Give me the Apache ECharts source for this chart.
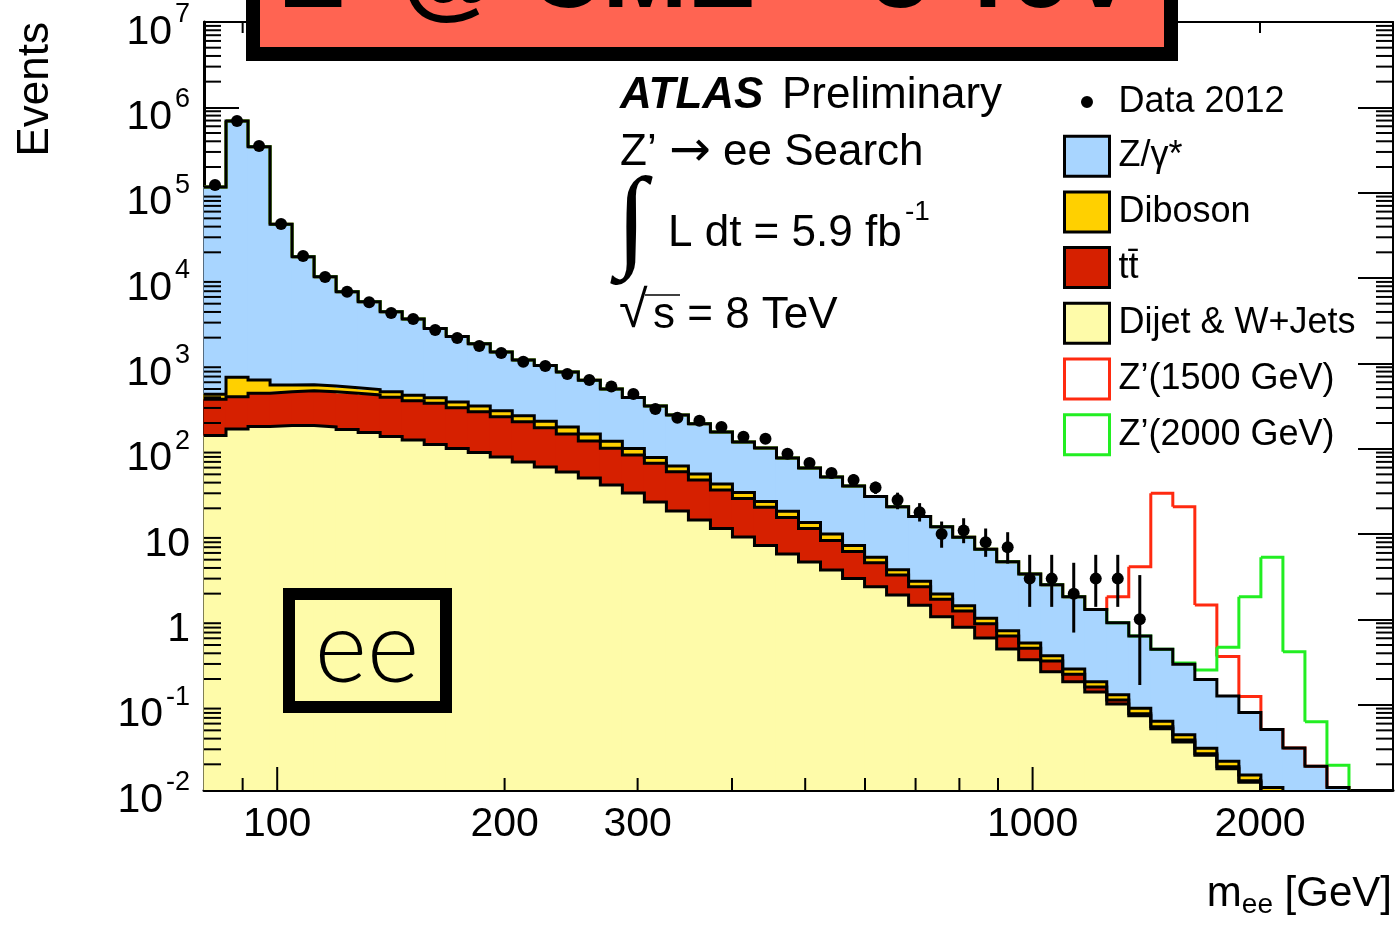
<!DOCTYPE html>
<html>
<head>
<meta charset="utf-8">
<title>Z' to ee search</title>
<script src="https://cdn.jsdelivr.net/npm/echarts@6/dist/echarts.min.js"></script>
<style>
  html, body { margin: 0; padding: 0; background: #fff; }
  #chart { width: 1397px; height: 927px; }
</style>
</head>
<body>
<div id="chart"></div>
<script>
// 54 equal bins in log(m_ee) between 80 and 3000 GeV
const massMin = 80;
const massMax = 3000;
const nBins = 54;
const yMin = 0.01;
const yMax = 1e7;

// background per bin (events), bottom of the stack first
const dijetWjets = [142.6, 170, 182, 187, 187, 179.5, 168, 155, 139, 126.5,
  112, 100.5, 90.2, 80, 69.8, 61, 53.3, 45.3, 37.5, 30.3,
  23.7, 18.6, 14.6, 11.6, 9.23, 7.33, 5.83, 4.7, 3.79, 3.01,
  2.41, 1.93, 1.46, 1.07, 0.807, 0.604, 0.449, 0.337, 0.243, 0.186,
  0.141, 0.102, 0.0743, 0.0523, 0.0365, 0.0255, 0.0178, 0.0123, 0.0085, 0.0058,
  0.004, 0.0027, 0.0019, 0.0013];
const ttbar = [236, 236, 264, 279, 291, 286, 278, 271, 261, 238,
  228, 201, 181, 157, 137, 115, 95.7, 77.7, 63.5, 54,
  43.7, 35.1, 28.4, 21.2, 16.9, 13.2, 9.8, 6.9, 4.6, 3.23,
  2.2, 1.38, 0.95, 0.65, 0.443, 0.285, 0.189, 0.121, 0.082, 0.041,
  0.02, 0.0115, 0.0041, 0.0029, 0.002, 0.0011, 0.00095, 0.0005, 0.0004, 0.0003,
  0.0002, 0.0002, 0.0001, 0.0001];
const diboson = [55, 281, 192, 91, 82, 77, 72, 67, 63, 58,
  54, 50, 45, 41, 37, 34, 30, 26, 21, 16,
  11.5, 9.0, 7.4, 5.7, 4.5, 3.5, 2.8, 2.0, 1.6, 1.1,
  0.72, 0.51, 0.38, 0.26, 0.195, 0.139, 0.098, 0.07, 0.05, 0.035,
  0.025, 0.0175, 0.0122, 0.0086, 0.006, 0.0042, 0.003, 0.0022, 0.0018, 0.0013,
  0.0009, 0.0006, 0.0004, 0.0003];
const zgamma = [116000, 691000, 345000, 42000, 17200, 9810, 6400, 4780, 3560, 2880,
  2170, 1710, 1380, 1080, 851, 733, 611, 484, 377, 298,
  238, 185, 145, 118, 89, 78, 59.4, 45.8, 36.6, 29.2,
  22.1, 17.1, 13.2, 10.2, 7.7, 5.59, 4.0, 2.87, 2.16, 1.58,
  1.12, 0.783, 0.547, 0.382, 0.253, 0.167, 0.105, 0.066, 0.0403, 0.0237,
  0.0139, 0.0072, 0.004, 0.0021];

// observed events (bins after the last one are empty)
const data2012 = [123000, 692000, 352000, 43000, 18100, 10300, 6920, 5190, 3890, 3310,
  2460, 1980, 1600, 1320, 1045, 931, 750, 638, 535, 437,
  292, 231, 213, 179, 138, 131, 87, 68, 52, 43,
  35, 25, 18, 10, 11, 8, 7, 3, 3, 2,
  3, 3, 1];
// visible error bars, starting at bin errFirstBin
const errFirstBin = 28;
const dataLo = [45, 37, 29.5, 19.5, 14, 6.9, 7.8, 5.4, 4.5, 1.4, 1.4, 0.7, 1.4, 1.4, 0.17];
const dataHi = [59, 50, 41, 30.5, 23, 14, 15.3, 11.6, 10.5, 5.7, 5.7, 4.6, 5.7, 5.7, 3.3];

// Z' signal on top of the background, starting at the given bin
const zp1500First = 41;
const zp1500 = [0.92, 3.5, 29.6, 20.6, 1.27, 0.24, 0.044];
const zp2000First = 44;
const zp2000 = [0.01, 0.057, 0.344, 1.76, 5.28, 0.387, 0.044, 0.0088, 0.002];

const xLabels = [100, 200, 300, 1000, 2000];
const xMajorTicks = [100, 1000];
const xMinorTicks = [90, 200, 300, 400, 500, 600, 700, 800, 900, 2000];

const F = 'Liberation Sans, Arial, Helvetica, sans-serif';
const colZ = '#a8d5ff';
const colDiboson = '#ffd000';
const colTtbar = '#d62000';
const colDijet = '#fefba9';
const colZp1500 = '#ff2a10';
const colZp2000 = '#22ee22';

const edges = [];
for (let k = 0; k <= nBins; k++) edges.push(massMin * Math.pow(massMax / massMin, k / nBins));
const centers = edges.slice(0, nBins).map((e, k) => Math.sqrt(e * edges[k + 1]));

// cumulative stack
const layers = [dijetWjets, ttbar, diboson, zgamma];
const tops = [];
let run = new Array(nBins).fill(0);
layers.forEach((vals) => {
  run = run.map((r, k) => r + vals[k]);
  tops.push(run);
});
const bottoms = [new Array(nBins).fill(yMin), tops[0], tops[1], tops[2]];
const total = tops[3];

const clampY = (v) => Math.min(Math.max(v, yMin), yMax);

function binRects(i) {
  return edges.slice(0, nBins).map((e, k) => [e, edges[k + 1], bottoms[i][k], tops[i][k]]);
}

function stepPoints(vals) {
  const pts = [];
  vals.forEach((v, k) => pts.push([edges[k], v], [edges[k + 1], v]));
  return pts;
}

function signalSteps(sig, first) {
  const vals = total.map((t, k) => {
    const j = k - first;
    return t + (j >= 0 && j < sig.length ? sig[j] : 0);
  });
  return vals.map((v, k) => [edges[k], edges[k + 1], v, k + 1 < nBins ? vals[k + 1] : v]);
}

function renderFill(params, api) {
  const hi = api.value(3);
  if (hi <= yMin) return null;
  const a = api.coord([api.value(0), clampY(hi)]);
  const b = api.coord([api.value(1), clampY(api.value(2))]);
  return {
    type: 'rect',
    shape: { x: a[0] - 0.5, y: a[1], width: b[0] - a[0] + 1, height: b[1] - a[1] },
    style: { fill: api.visual('color') }
  };
}

function renderStep(params, api) {
  const v = api.value(2);
  const p0 = api.coord([api.value(0), clampY(v)]);
  const p1 = api.coord([api.value(1), clampY(v)]);
  const p2 = api.coord([api.value(1), clampY(api.value(3))]);
  const points = v > yMin ? [p0, p1, p2] : [p1, p2];
  return {
    type: 'polyline',
    shape: { points: points },
    style: { stroke: api.visual('color'), lineWidth: 3, fill: null }
  };
}

function renderErr(params, api) {
  const a = api.coord([api.value(0), clampY(api.value(1))]);
  const b = api.coord([api.value(0), clampY(api.value(2))]);
  return {
    type: 'line',
    shape: { x1: a[0], y1: a[1], x2: b[0], y2: b[1] },
    style: { stroke: '#000', lineWidth: 3 }
  };
}

const yMinorTicks = [];
for (let e = -2; e < 7; e++) {
  for (let m = 2; m <= 9; m++) yMinorTicks.push(m * Math.pow(10, e));
}

function renderYMinor(params, api) {
  const v = api.value(1);
  const p = api.coord([massMin, v]);
  const q = api.coord([massMax, v]);
  return {
    type: 'group',
    children: [
      { type: 'line', shape: { x1: p[0], y1: p[1], x2: p[0] + 17, y2: p[1] }, style: { stroke: '#000', lineWidth: 2 } },
      { type: 'line', shape: { x1: q[0] - 17, y1: q[1], x2: q[0], y2: q[1] }, style: { stroke: '#000', lineWidth: 2 } }
    ]
  };
}

// x ticks: value, length
function renderXTick(params, api) {
  const v = api.value(0);
  const len = api.value(2);
  const p = api.coord([v, yMin]);
  const t = api.coord([v, yMax]);
  return {
    type: 'group',
    children: [
      { type: 'line', shape: { x1: p[0], y1: p[1], x2: p[0], y2: p[1] - len }, style: { stroke: '#000', lineWidth: 2 } },
      { type: 'line', shape: { x1: t[0], y1: t[1], x2: t[0], y2: t[1] + len - 1 }, style: { stroke: '#000', lineWidth: 2 } }
    ]
  };
}

function renderXLabel(params, api) {
  const v = api.value(0);
  const p = api.coord([v, yMin]);
  return {
    type: 'text',
    x: p[0],
    y: p[1] + 35,
    style: { text: String(v), fontSize: 41, fontFamily: F, fill: '#000', align: 'center', verticalAlign: 'middle' }
  };
}

function fillSeries(name, i, color) {
  return {
    name: name,
    type: 'custom',
    renderItem: renderFill,
    encode: { x: [0, 1], y: [2, 3] },
    itemStyle: { color: color, borderColor: '#000', borderWidth: 3 },
    data: binRects(i),
    silent: true
  };
}

function outlineSeries(vals) {
  return {
    type: 'line',
    data: stepPoints(vals),
    symbol: 'none',
    lineStyle: { color: '#000', width: 3, join: 'miter' },
    clip: true,
    silent: true
  };
}

function signalSeries(name, sig, first, color) {
  return {
    name: name,
    type: 'custom',
    renderItem: renderStep,
    encode: { x: [0, 1], y: [2, 3] },
    itemStyle: { color: color },
    data: signalSteps(sig, first),
    silent: true
  };
}

const dotIcon = 'path://M0,0L0.01,0M45,40L45.01,40M16.5,20A6,6,0,1,0,28.5,20A6,6,0,1,0,16.5,20Z';

const option = {
  animation: false,
  backgroundColor: '#fff',
  grid: { left: 204, right: 4, top: 22, bottom: 137, containLabel: false, outerBoundsMode: 'none' },
  xAxis: [
    {
      type: 'log', min: massMin, max: massMax, position: 'bottom',
      axisLine: { onZero: false, lineStyle: { color: '#000', width: 3 } },
      axisTick: { show: false },
      axisLabel: { show: false },
      splitLine: { show: false }
    },
    {
      type: 'log', min: massMin, max: massMax, position: 'top',
      axisLine: { onZero: false, lineStyle: { color: '#000', width: 2 } },
      axisTick: { show: false },
      axisLabel: { show: false },
      splitLine: { show: false }
    }
  ],
  yAxis: [
    {
      type: 'log', min: yMin, max: yMax, position: 'left',
      axisLine: { onZero: false, lineStyle: { color: '#000', width: 3 } },
      axisTick: { inside: true, length: 35, lineStyle: { color: '#000', width: 2 } },
      splitLine: { show: false },
      axisLabel: {
        margin: 14,
        padding: [10, 0, 0, 0],
        formatter: (v) => {
          const e = Math.round(Math.log10(v));
          if (e === 0) return '{p|1}';
          if (e === 1) return '{p|10}';
          return '{p|10}{s|' + e + '}';
        },
        rich: {
          p: { fontSize: 41, fontFamily: F, color: '#000', lineHeight: 52, verticalAlign: 'bottom' },
          s: { fontSize: 27, fontFamily: F, color: '#000', lineHeight: 22, verticalAlign: 'top', padding: [0, 0, 0, 3] }
        }
      }
    },
    {
      type: 'log', min: yMin, max: yMax, position: 'right',
      axisLine: { onZero: false, lineStyle: { color: '#000', width: 2 } },
      axisTick: { inside: true, length: 35, lineStyle: { color: '#000', width: 2 } },
      axisLabel: { show: false },
      splitLine: { show: false }
    }
  ],
  legend: {
    left: 1063,
    top: 82,
    padding: 0,
    orient: 'vertical',
    itemWidth: 45,
    itemHeight: 40,
    itemGap: 12.7,
    selectedMode: false,
    textStyle: { fontSize: 36, fontFamily: F, color: '#000', padding: [0, 0, 0, 4] },
    data: [
      { name: 'Data 2012', icon: dotIcon, itemStyle: { color: '#000', borderWidth: 0 } },
      { name: 'Z/γ*', icon: 'rect', itemStyle: { color: colZ, borderColor: '#000', borderWidth: 3 } },
      { name: 'Diboson', icon: 'rect', itemStyle: { color: colDiboson, borderColor: '#000', borderWidth: 3 } },
      { name: 'tt\u0304', icon: 'rect', itemStyle: { color: colTtbar, borderColor: '#000', borderWidth: 3 } },
      { name: 'Dijet & W+Jets', icon: 'rect', itemStyle: { color: colDijet, borderColor: '#000', borderWidth: 3 } },
      { name: 'Z’(1500 GeV)', icon: 'rect', itemStyle: { color: '#fff', borderColor: colZp1500, borderWidth: 3 } },
      { name: 'Z’(2000 GeV)', icon: 'rect', itemStyle: { color: '#fff', borderColor: colZp2000, borderWidth: 3 } }
    ]
  },
  series: [
    fillSeries('Dijet & W+Jets', 0, colDijet),
    fillSeries('tt\u0304', 1, colTtbar),
    fillSeries('Diboson', 2, colDiboson),
    fillSeries('Z/γ*', 3, colZ),
    signalSeries('Z’(1500 GeV)', zp1500, zp1500First, colZp1500),
    signalSeries('Z’(2000 GeV)', zp2000, zp2000First, colZp2000),
    outlineSeries(tops[0]),
    outlineSeries(tops[1]),
    outlineSeries(tops[2]),
    outlineSeries(tops[3]),
    {
      type: 'custom',
      renderItem: renderErr,
      encode: { x: 0, y: [1, 2] },
      data: dataLo.map((lo, j) => [centers[errFirstBin + j], lo, dataHi[j]]),
      silent: true
    },
    {
      name: 'Data 2012',
      type: 'scatter',
      symbol: 'circle',
      symbolSize: 12,
      itemStyle: { color: '#000', opacity: 1 },
      data: data2012.map((v, k) => [centers[k], v]),
      silent: true
    },
    {
      type: 'custom',
      renderItem: renderYMinor,
      data: yMinorTicks.map((v) => [massMin, v]),
      silent: true
    },
    {
      type: 'custom',
      renderItem: renderXTick,
      data: xMajorTicks.map((v) => [v, yMin, 23]).concat(xMinorTicks.map((v) => [v, yMin, 12])),
      silent: true
    },
    {
      type: 'custom',
      renderItem: renderXLabel,
      data: xLabels.map((v) => [v, yMin]),
      silent: true
    }
  ],
  graphic: [
    { type: 'text', x: 36, y: 22, rotation: Math.PI / 2,
      style: { text: 'Events', fontSize: 44, fontFamily: F, fill: '#000', align: 'right', verticalAlign: 'middle' } },
    { type: 'text', x: 1392, y: 896,
      style: {
        text: '{m|m}{s|ee}{m| [GeV]}', align: 'right', verticalAlign: 'middle', fill: '#000',
        rich: {
          m: { fontSize: 42, fontFamily: F, lineHeight: 42, verticalAlign: 'top' },
          s: { fontSize: 28, fontFamily: F, lineHeight: 46, verticalAlign: 'bottom' }
        }
      } },
    { type: 'text', x: 620, y: 96,
      style: { text: 'ATLAS', fontSize: 44, fontStyle: 'italic', fontWeight: 'bold', fontFamily: F, fill: '#000', verticalAlign: 'middle' } },
    { type: 'text', x: 782, y: 96,
      style: { text: 'Preliminary', fontSize: 44, fontFamily: F, fill: '#000', verticalAlign: 'middle' } },
    { type: 'text', x: 620, y: 153,
      style: {
        text: '{a|Z’ }{r|→}{a| ee Search}', verticalAlign: 'middle', fill: '#000',
        rich: {
          a: { fontSize: 44, fontFamily: F },
          r: { fontSize: 50, fontFamily: 'DejaVu Sans, sans-serif' }
        }
      } },
    { type: 'text', x: 616, y: 226,
      style: { text: '∫', fontSize: 112, fontFamily: 'Liberation Serif, DejaVu Serif, serif', fill: '#000', verticalAlign: 'middle' } },
    { type: 'text', x: 668, y: 234,
      style: { text: 'L dt = 5.9 fb', fontSize: 44, fontFamily: F, fill: '#000', verticalAlign: 'middle' } },
    { type: 'text', x: 905, y: 212,
      style: { text: '-1', fontSize: 28, fontFamily: F, fill: '#000', verticalAlign: 'middle' } },
    { type: 'text', x: 619, y: 313,
      style: { text: '√', fontSize: 52, fontFamily: F, fill: '#000', verticalAlign: 'middle' } },
    { type: 'line', shape: { x1: 645, y1: 295, x2: 680, y2: 295 }, style: { stroke: '#000', lineWidth: 1.5 } },
    { type: 'text', x: 653, y: 316,
      style: { text: 's = 8 TeV', fontSize: 44, fontFamily: F, fill: '#000', verticalAlign: 'middle' } },
    // "ee" channel tag
    { type: 'rect', z: 50, shape: { x: 289, y: 594, width: 157, height: 113 },
      style: { fill: null, stroke: '#000', lineWidth: 12 } },
    { type: 'text', z: 50, x: 367, y: 650,
      style: { text: 'ee', fontSize: 100, fontWeight: 300, fontFamily: 'Lato, Open Sans, sans-serif', fill: '#000', align: 'center', verticalAlign: 'middle' } },
    // slide banner cut off at the top
    { type: 'rect', z: 100, shape: { x: 253, y: -30, width: 918, height: 84 },
      style: { fill: '#ff6452', stroke: '#000', lineWidth: 14 } },
    { type: 'text', z: 101, x: 282, y: 30,
      style: { text: 'Z’ @ CME = 8 TeV', fontSize: 102, fontWeight: 'bold', fontFamily: F, fill: '#000', align: 'left', verticalAlign: 'bottom' } }
  ]
};

const chart = echarts.init(document.getElementById('chart'));
chart.setOption(option);
</script>
</body>
</html>
